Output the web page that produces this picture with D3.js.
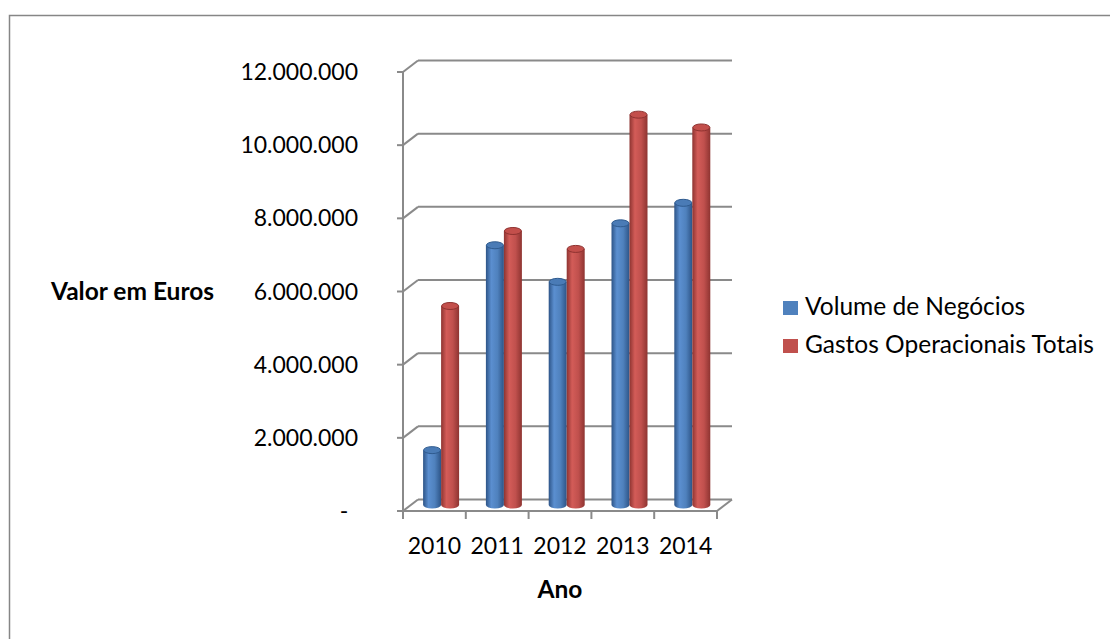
<!DOCTYPE html>
<html>
<head>
<meta charset="utf-8">
<script src="https://cdn.jsdelivr.net/npm/d3@7"></script>
<style>
  body { margin: 0; background: #fff; }
  svg { display: block; font-family: Lato, "Open Sans", sans-serif; }
</style>
</head>
<body>
<div class="chart"></div>
<script>
// data
var years = ["2010", "2011", "2012", "2013", "2014"];
var seriesNames = ["Volume de Negócios", "Gastos Operacionais Totais"];
var volumeNegocios = [1500000, 7100000, 6100000, 7700000, 8260000];
var gastosOperacionais = [5440000, 7490000, 7000000, 10670000, 10320000];
var yTicks = [0, 2000000, 4000000, 6000000, 8000000, 10000000, 12000000];

var width = 1110;
var height = 639;

var svg = d3.select(".chart").append("svg")
  .attr("width", width)
  .attr("height", height);

// chart border (runs past the picture edge right/bottom)
svg.append("rect")
  .attr("x", 9.5).attr("y", 15.5)
  .attr("width", 1130).attr("height", 660)
  .attr("fill", "#fff")
  .attr("stroke", "#868686")
  .attr("stroke-width", 1.5);

// scales
var y = d3.scaleLinear().domain([0, 12000000]).range([511, 72]);
var x = d3.scaleBand().domain(years).range([403, 717]);
var xSub = d3.scaleBand().domain(seriesNames).range([12.6, 48.6]);

// depth offsets of the 3D box
var depth = { dx: 15, dy: -11.5 };
var mid = { dx: 7.5, dy: -6 };

var gridColor = "#8a8a8a";
var box = svg.append("g");

// back wall gridlines + diagonals to front axis
yTicks.forEach(function (t) {
  box.append("line")
    .attr("x1", x.range()[0] + depth.dx).attr("x2", x.range()[1] + depth.dx)
    .attr("y1", y(t) + depth.dy).attr("y2", y(t) + depth.dy)
    .attr("stroke", gridColor).attr("stroke-width", 2);
  box.append("line")
    .attr("x1", x.range()[0]).attr("x2", x.range()[0] + depth.dx)
    .attr("y1", y(t)).attr("y2", y(t) + depth.dy)
    .attr("stroke", gridColor).attr("stroke-width", 2);
  // tick mark
  box.append("line")
    .attr("x1", x.range()[0] - 6).attr("x2", x.range()[0])
    .attr("y1", y(t)).attr("y2", y(t))
    .attr("stroke", gridColor).attr("stroke-width", 2);
});

// floor: front edge, right diagonal
box.append("line")
  .attr("x1", x.range()[0]).attr("x2", x.range()[1])
  .attr("y1", y(0)).attr("y2", y(0))
  .attr("stroke", gridColor).attr("stroke-width", 2);
box.append("line")
  .attr("x1", x.range()[1]).attr("x2", x.range()[1] + depth.dx)
  .attr("y1", y(0)).attr("y2", y(0) + depth.dy)
  .attr("stroke", gridColor).attr("stroke-width", 2);

// front vertical axis
box.append("line")
  .attr("x1", x.range()[0]).attr("x2", x.range()[0])
  .attr("y1", y(12000000)).attr("y2", y(0))
  .attr("stroke", gridColor).attr("stroke-width", 2);

// x ticks
var xEdges = years.map(function (d) { return x(d); }).concat([x.range()[1]]);
xEdges.forEach(function (px) {
  box.append("line")
    .attr("x1", px).attr("x2", px)
    .attr("y1", y(0)).attr("y2", y(0) + 8)
    .attr("stroke", gridColor).attr("stroke-width", 2);
});

// y tick labels (pt-PT style: 12.000.000, zero shown as "-")
var fmt = d3.formatLocale({ decimal: ",", thousands: ".", grouping: [3], currency: ["", "€"] }).format(",.0f");
svg.append("g").selectAll("text")
  .data(yTicks)
  .enter().append("text")
  .attr("x", function (d) { return d === 0 ? 344 : 358; })
  .attr("y", function (d) { return y(d); })
  .attr("dy", "0.35em")
  .attr("text-anchor", function (d) { return d === 0 ? "middle" : "end"; })
  .attr("font-size", 23)
  .attr("fill", "#000")
  .text(function (d) { return d === 0 ? "-" : fmt(d); });

// x labels
svg.append("g").selectAll("text")
  .data(years)
  .enter().append("text")
  .attr("x", function (d) { return x(d) + x.bandwidth() / 2; })
  .attr("y", 554)
  .attr("text-anchor", "middle")
  .attr("font-size", 23)
  .text(function (d) { return d; });

// axis titles
svg.append("text")
  .attr("x", 560).attr("y", 598)
  .attr("text-anchor", "middle")
  .attr("font-size", 24.5).attr("font-weight", "bold")
  .text("Ano");
svg.append("text")
  .attr("x", 51).attr("y", 300)
  .attr("font-size", 24.5).attr("font-weight", "bold")
  .text("Valor em Euros");

// gradients for cylinders
var palette = {
  "Volume de Negócios": { main: "#4f81bd", dark: "#2d5487", light: "#5b8fd0", rim: "#2f5b8f", top: "#4a7bb6" },
  "Gastos Operacionais Totais": { main: "#c0504d", dark: "#8e3431", light: "#d35c58", rim: "#8e3230", top: "#c34f4b" }
};
var defs = svg.append("defs");
seriesNames.forEach(function (s, i) {
  var c = palette[s];
  var g = defs.append("linearGradient").attr("id", "cyl" + i)
    .attr("x1", "0%").attr("x2", "100%").attr("y1", "0%").attr("y2", "0%");
  g.append("stop").attr("offset", "0%").attr("stop-color", c.dark);
  g.append("stop").attr("offset", "30%").attr("stop-color", c.light);
  g.append("stop").attr("offset", "65%").attr("stop-color", c.main);
  g.append("stop").attr("offset", "100%").attr("stop-color", c.dark);
});

// cylinders
var rows = years.map(function (yr, i) {
  return [
    { year: yr, key: seriesNames[0], idx: 0, value: volumeNegocios[i] },
    { year: yr, key: seriesNames[1], idx: 1, value: gastosOperacionais[i] }
  ];
});
var flat = d3.merge(rows);
var ry = 3.5;

var cyl = svg.append("g").selectAll("g")
  .data(flat)
  .enter().append("g")
  .attr("transform", function (d) {
    return "translate(" + (x(d.year) + mid.dx + xSub(d.key)) + "," + mid.dy + ")";
  });

cyl.append("path")
  .attr("d", function (d) {
    var w = xSub.bandwidth();
    var yt = y(d.value), yb = y(0);
    return "M0," + yt + " L0," + yb +
      " A" + (w / 2) + "," + ry + " 0 0 0 " + w + "," + yb +
      " L" + w + "," + yt + " Z";
  })
  .attr("fill", function (d) { return "url(#cyl" + d.idx + ")"; });

cyl.append("ellipse")
  .attr("cx", xSub.bandwidth() / 2)
  .attr("cy", function (d) { return y(d.value); })
  .attr("rx", xSub.bandwidth() / 2 - 0.5)
  .attr("ry", ry)
  .attr("fill", function (d) { return palette[d.key].top; })
  .attr("stroke", function (d) { return palette[d.key].rim; })
  .attr("stroke-width", 1);

// legend
var legend = svg.append("g").selectAll("g")
  .data(seriesNames)
  .enter().append("g")
  .attr("transform", function (d, i) { return "translate(783," + (315 + i * 38) + ")"; });
legend.append("rect")
  .attr("x", 0).attr("y", -14)
  .attr("width", 15).attr("height", 14)
  .attr("fill", function (d) { return palette[d].main; });
legend.append("text")
  .attr("x", 22).attr("y", 0)
  .attr("font-size", 24.5)
  .text(function (d) { return d; });
</script>
</body>
</html>
